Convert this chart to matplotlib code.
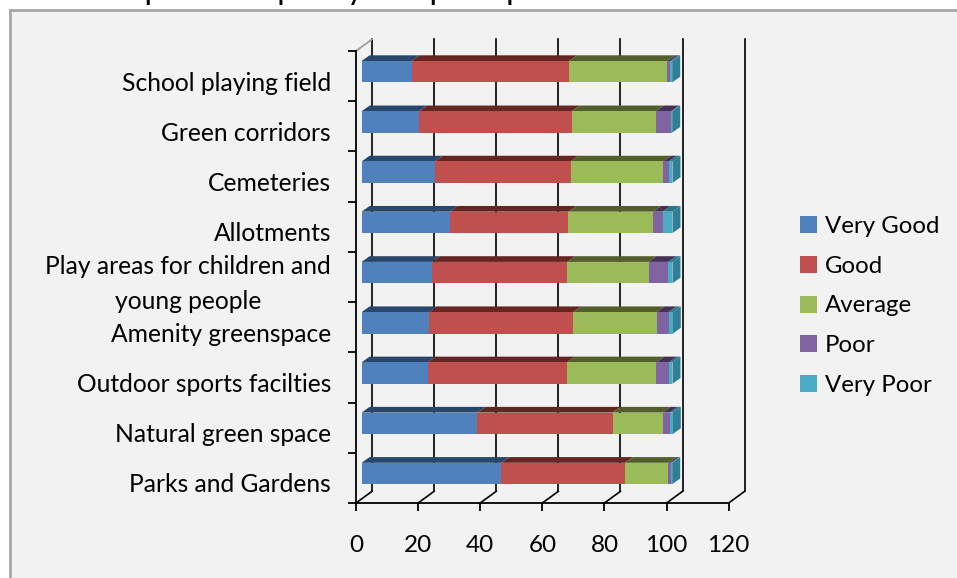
import matplotlib

matplotlib.use("Agg")
import matplotlib.pyplot as plt
from matplotlib.patches import Polygon, Rectangle

plt.rcParams["font.family"] = ["Lato", "DejaVu Sans"]

categories = [
    "Parks and Gardens",
    "Natural green space",
    "Outdoor sports facilties",
    "Amenity greenspace",
    "Play areas for children and\nyoung people",
    "Allotments",
    "Cemeteries",
    "Green corridors",
    "School playing field",
]
very_good = [45.0, 37.3, 21.3, 21.7, 22.6, 28.4, 23.6, 18.5, 16.1]
good = [39.8, 43.5, 44.9, 46.4, 43.6, 38.2, 43.7, 49.1, 50.7]
average = [14.0, 16.1, 28.7, 26.9, 26.2, 27.3, 29.7, 27.2, 31.6]
poor = [0.8, 2.3, 4.1, 3.9, 6.4, 3.0, 1.9, 4.9, 1.0]
very_poor = [0.4, 1.0, 1.1, 1.3, 1.3, 3.2, 1.2, 0.3, 0.6]

series_names = ["Very Good", "Good", "Average", "Poor", "Very Poor"]
series = [very_good, good, average, poor, very_poor]
front_colors = ["#4f81bd", "#c0504d", "#9bbb59", "#8064a2", "#4bacc6"]
top_colors = ["#29476b", "#652523", "#525f2c", "#433256", "#28788a"]
side_color = "#317f96"

W, H = 957, 578
X_PX = 372.7 / 120  # pixels per value unit
Y_PX = 452 / 9  # pixels per category

fig = plt.figure(figsize=(W / 100, H / 100), dpi=100, facecolor="white")
fig.patches.append(
    Rectangle(
        (9.5 / W, -0.02),
        1.0,
        1.02 - 10.5 / H,
        transform=fig.transFigure,
        facecolor="#f2f2f2",
        edgecolor="#a3a3a3",
        linewidth=1.9,
        zorder=-1,
    )
)
fig.text(
    318 / W,
    1 + 1.0 / H,
    "Perception of quality of open space",
    fontsize=23.7,
    ha="center",
    va="baseline",
    color="black",
)

ax = fig.add_axes([356 / W, (H - 503) / H, 372.7 / W, 452 / H])
ax.patch.set_visible(False)
ax.set_xlim(0, 120)
ax.set_ylim(0, 9)
for name in ("top", "right"):
    ax.spines[name].set_visible(False)
for name in ("left", "bottom"):
    ax.spines[name].set_linewidth(1.3)

# back wall lines and floor diagonals
back_dx = 16 / X_PX
back_dy = 11.7 / Y_PX
ticks = [0, 20, 40, 60, 80, 100, 120]
for v in ticks:
    ax.plot([v + back_dx] * 2, [back_dy, 9 + back_dy], color="black", lw=1.2, clip_on=False, zorder=1)
    ax.plot([v, v + back_dx], [0, back_dy], color="black", lw=1.2, clip_on=False, zorder=1)
ax.plot([0, back_dx], [9, 9 + back_dy], color="#a0a0a0", lw=1.3, clip_on=False, zorder=1)

# bars: front faces through barh, then the pseudo 3d top and end faces
bar_dx = 5.6 / X_PX
bar_dy = 4.4 / Y_PX
bar_h = 21.4 / Y_PX
depth_x = 8 / X_PX
depth_y = 5.7 / Y_PX
y_pos = [i + 0.5 + bar_dy for i in range(len(categories))]
lefts = [bar_dx] * len(categories)

for vals, name, front, top in zip(series, series_names, front_colors, top_colors):
    ax.barh(y_pos, vals, left=lefts, height=bar_h, color=front, label=name, zorder=3, clip_on=False)
    for y, left, v in zip(y_pos, lefts, vals):
        ytop = y + bar_h / 2
        ax.add_patch(
            Polygon(
                [
                    (left, ytop),
                    (left + v, ytop),
                    (left + v + depth_x, ytop + depth_y),
                    (left + depth_x, ytop + depth_y),
                ],
                closed=True,
                facecolor=top,
                edgecolor="none",
                zorder=2.5,
                clip_on=False,
            )
        )
    lefts = [a + b for a, b in zip(lefts, vals)]

for y, end in zip(y_pos, lefts):
    ybot = y - bar_h / 2
    ytop = y + bar_h / 2
    ax.add_patch(
        Polygon(
            [
                (end, ybot),
                (end, ytop),
                (end + depth_x, ytop + depth_y),
                (end + depth_x, ybot + depth_y),
            ],
            closed=True,
            facecolor=side_color,
            edgecolor="none",
            zorder=2.6,
            clip_on=False,
        )
    )

ax.set_xticks(ticks)
ax.set_yticks(range(10))
ax.set_yticklabels([])
ax.tick_params(axis="both", length=5.8, width=1.3, color="black")
ax.tick_params(axis="x", labelsize=17.5, pad=17.5)

for i, label in enumerate(categories):
    ax.annotate(
        label,
        xy=(0, i + 0.5),
        xytext=(-18, -5),
        textcoords="offset points",
        ha="right",
        va="center",
        multialignment="center",
        fontsize=17.7,
        linespacing=1.6,
    )

ax.legend(
    loc="center left",
    bbox_to_anchor=(800 / W, (H - 306) / H),
    bbox_transform=fig.transFigure,
    frameon=False,
    fontsize=17.3,
    handlelength=0.72,
    handleheight=0.72,
    handletextpad=0.3,
    labelspacing=0.78,
    borderpad=0,
    borderaxespad=0,
)

fig.savefig("out.png", dpi=100, facecolor=fig.get_facecolor())
